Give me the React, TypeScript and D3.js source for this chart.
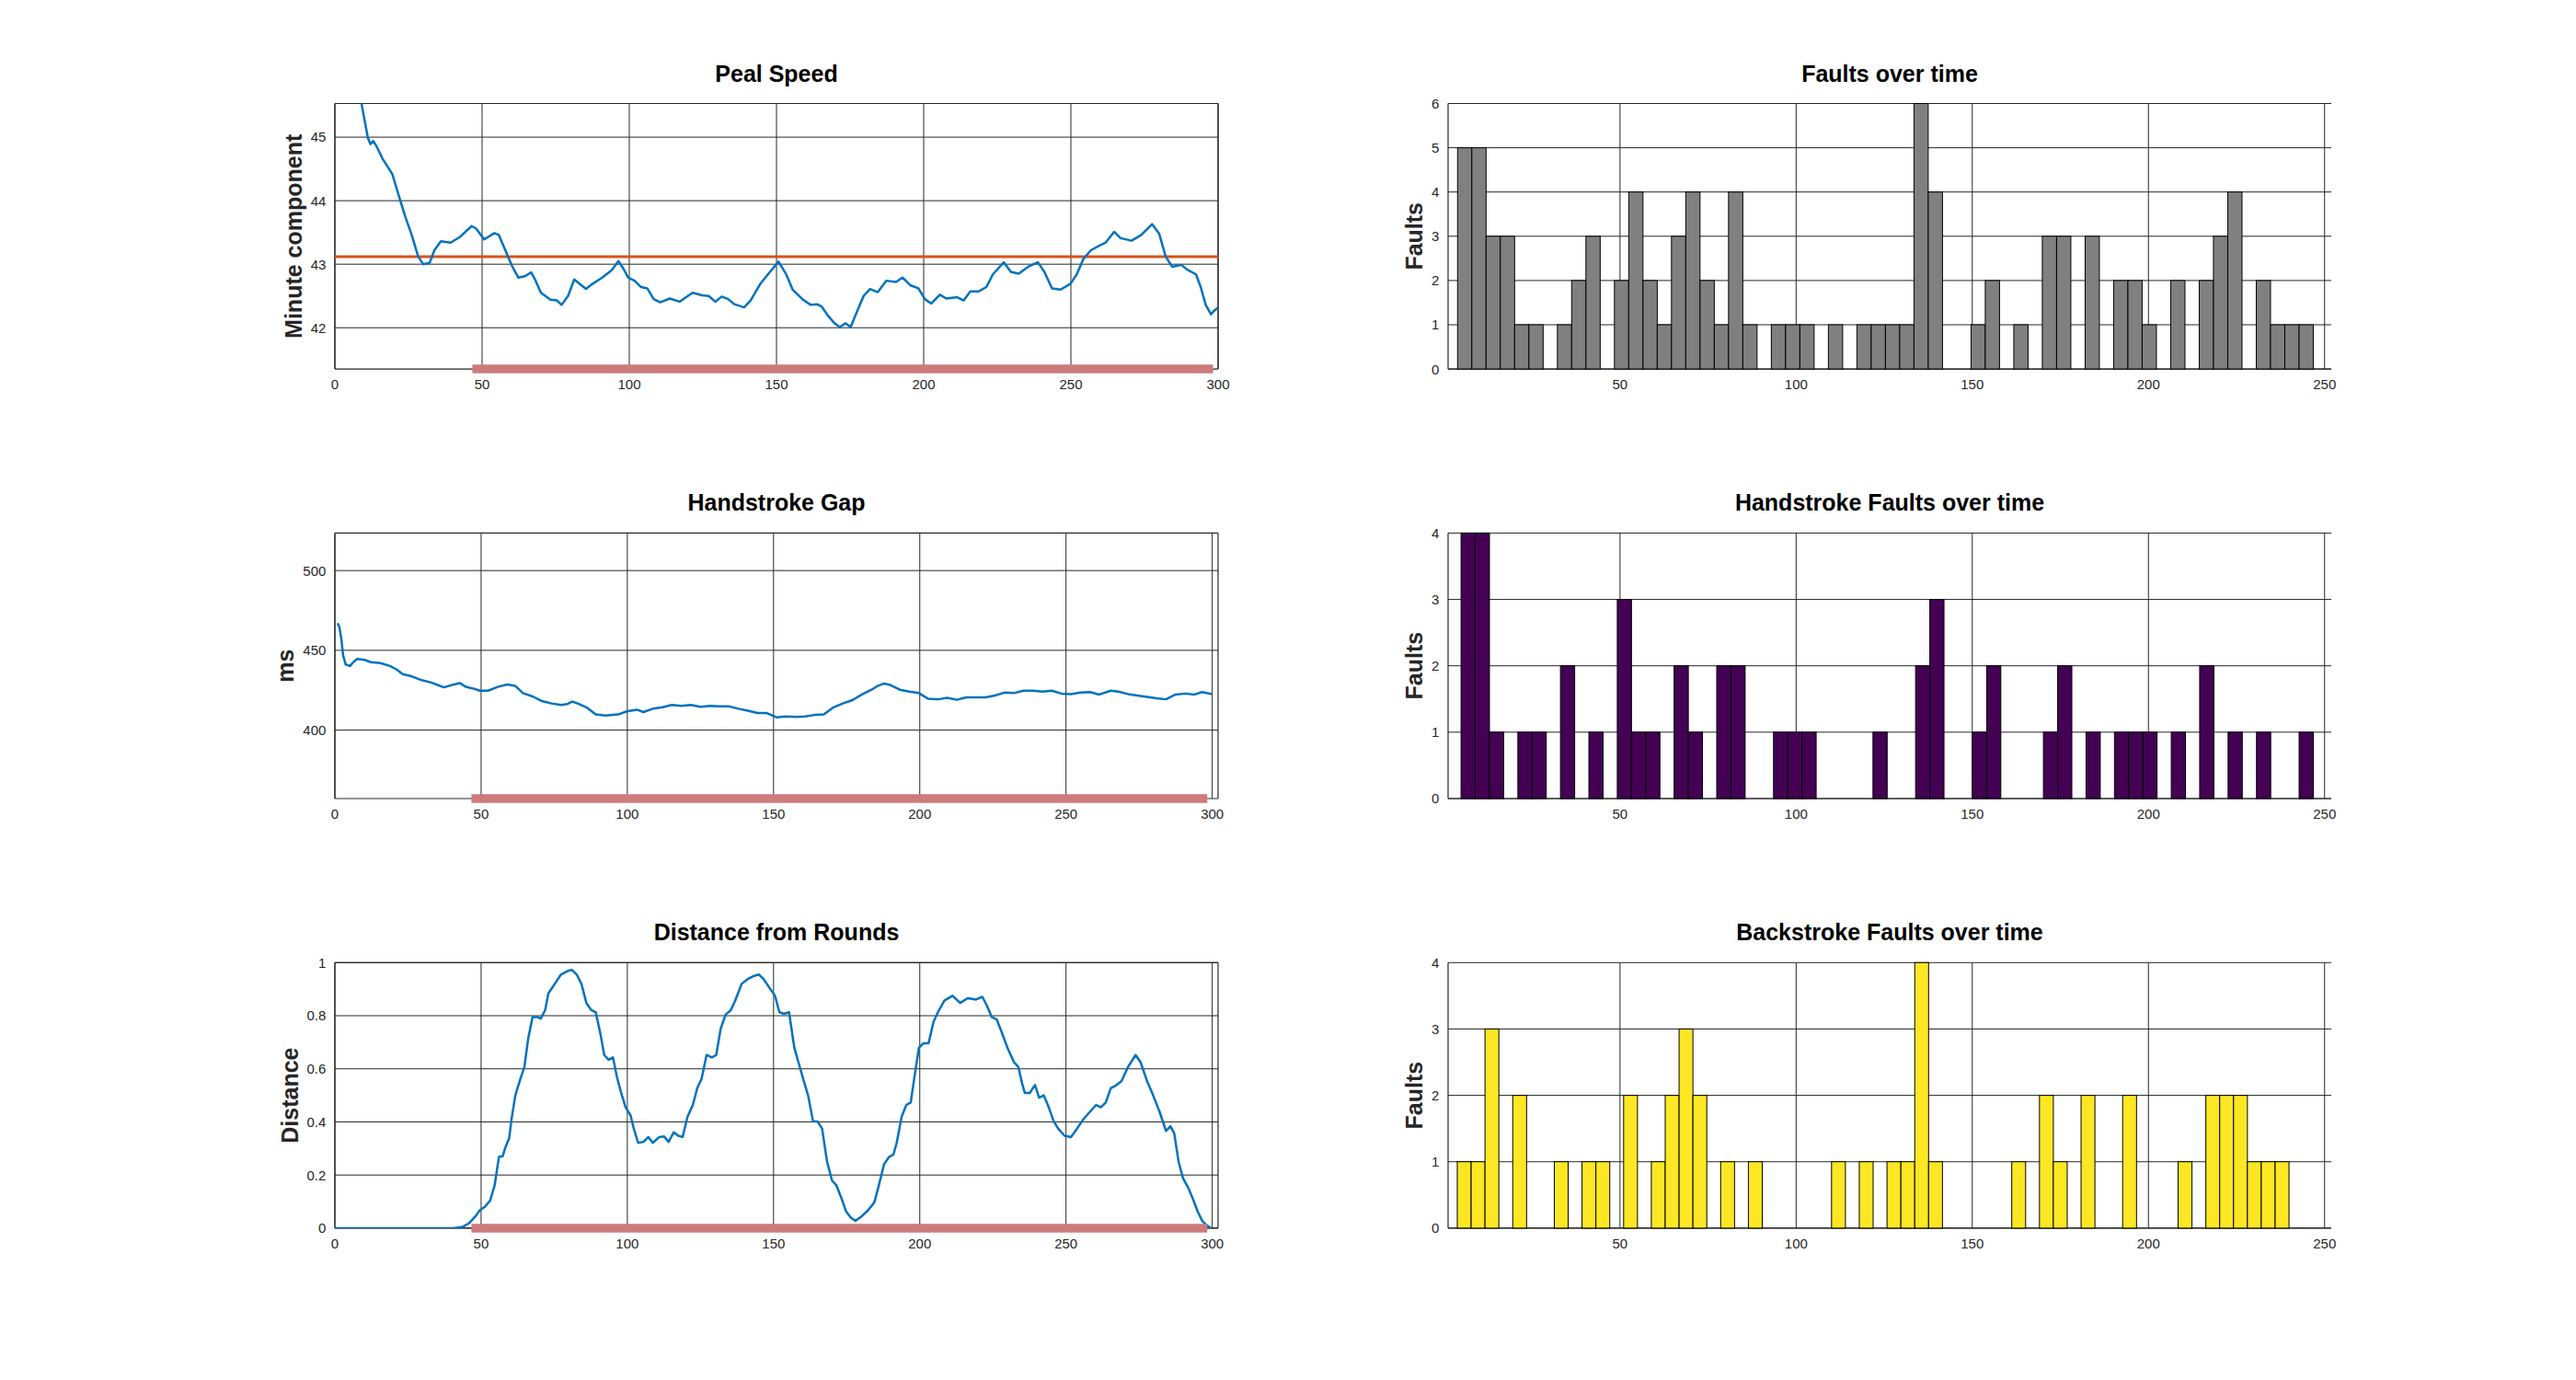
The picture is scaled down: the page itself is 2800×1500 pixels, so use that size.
import * as d3 from 'd3';

// ---- data ----
const lineXTicks = [0, 50, 100, 150, 200, 250, 300];
const histXTicks = [50, 100, 150, 200, 250];

const pealSpeed: [number, number][] = [
  [1, 47.6], [5, 46.5], [9, 45.54], [11.2, 44.99], [12.1, 44.89], [13, 44.94], [14, 44.87], [16.2, 44.66],
  [19.5, 44.42], [21.7, 44.08], [23.9, 43.75], [26.1, 43.46], [28.3, 43.12], [30, 43.0], [32.2, 43.02],
  [33.8, 43.22], [36, 43.36], [39.3, 43.34], [42.5, 43.43], [46.5, 43.6], [48, 43.56], [50.7, 43.39],
  [54.2, 43.49], [55.7, 43.46], [57.9, 43.22], [60.1, 42.98], [62.3, 42.79], [64.5, 42.81], [66.7, 42.87],
  [68.2, 42.74], [70, 42.55], [73.2, 42.44], [75.4, 42.43], [77, 42.36], [79.2, 42.5], [81.3, 42.76],
  [83.1, 42.69], [85.3, 42.61], [87.5, 42.69], [90.8, 42.79], [94.1, 42.91], [96.3, 43.05], [98, 42.93],
  [99.6, 42.79], [101.8, 42.74], [104, 42.64], [106.1, 42.62], [108.3, 42.45], [110.5, 42.4], [113.8, 42.46],
  [117.1, 42.41], [119.3, 42.48], [121.5, 42.55], [124.8, 42.51], [127, 42.5], [129.2, 42.41], [131.4, 42.49],
  [133.6, 42.45], [135.7, 42.37], [139, 42.32], [141.2, 42.43], [144.5, 42.69], [147.8, 42.88], [150.7, 43.04],
  [153.3, 42.84], [155.5, 42.6], [158.8, 42.45], [161.6, 42.36], [163.8, 42.37], [165.4, 42.33], [167.5, 42.19],
  [169.7, 42.07], [171.5, 42.01], [173.5, 42.07], [175.2, 42.01], [177.4, 42.26], [179.6, 42.5], [181.8, 42.61],
  [184.4, 42.56], [187.3, 42.74], [190.6, 42.72], [192.8, 42.79], [195.4, 42.67], [198.2, 42.62], [200.4, 42.45],
  [202.6, 42.38], [205.5, 42.52], [207.7, 42.46], [211.4, 42.48], [213.6, 42.43], [215.8, 42.57], [218.6, 42.57],
  [221.3, 42.64], [223.5, 42.84], [227.2, 43.03], [229.6, 42.88], [232.3, 42.85], [235.5, 42.96], [238.8, 43.03],
  [241, 42.88], [243.6, 42.62], [246.5, 42.6], [249.8, 42.69], [252, 42.84], [254.2, 43.08], [256.8, 43.22],
  [259.6, 43.29], [261.8, 43.34], [264.7, 43.51], [266.9, 43.41], [270.6, 43.37], [273.9, 43.46], [277.6, 43.63],
  [280, 43.48], [282.2, 43.12], [284.4, 42.96], [287.5, 42.99], [289.7, 42.91], [292.5, 42.84], [294.1, 42.64],
  [295.8, 42.36], [297.6, 42.21], [298.5, 42.26], [300, 42.32],
];
const pealMean = 43.12;
const pealTicks = [42, 43, 44, 45];

const handGap: [number, number][] = [
  [0.9, 467.0], [1.5, 464.9], [2.2, 457.4], [2.8, 447.0], [3.7, 441.1], [5.2, 440.2], [6.3, 442.6], [7.6, 444.6],
  [10.2, 444.0], [12.3, 442.6], [15.6, 442.0], [18.8, 440.2], [21, 438.1], [23.2, 435.1], [26.4, 433.6],
  [29.7, 431.3], [32.9, 429.8], [35.1, 428.3], [37.3, 426.8], [40.1, 428.3], [42.7, 429.5], [44.8, 427.1],
  [47, 426.2], [49.6, 424.7], [52.4, 424.7], [55.7, 427.1], [58.9, 428.6], [61.7, 427.7], [64.3, 423.2],
  [67.6, 421.1], [70.8, 418.2], [74.1, 416.7], [77.3, 415.8], [79.5, 416.4], [81.2, 417.9], [83.4, 416.4],
  [86, 414.3], [89.2, 409.8], [92.5, 409.2], [96.8, 409.8], [100.1, 411.9], [103.3, 412.8], [105.5, 411.3],
  [108.7, 413.4], [112, 414.3], [115.2, 415.8], [118.5, 415.2], [121.7, 415.8], [125, 414.6], [128.2, 415.2],
  [131.5, 414.9], [134.7, 414.9], [138, 413.4], [141.2, 412.2], [144.5, 410.7], [147.7, 410.7], [151, 408.0],
  [154.2, 408.6], [157.5, 408.3], [160.7, 408.6], [164, 409.5], [167.2, 409.8], [170.5, 414.3], [173.7, 416.7],
  [177, 418.8], [180.2, 422.3], [183.5, 425.3], [185.6, 427.7], [187.8, 429.2], [189.9, 428.3], [193.2, 425.3],
  [196.4, 424.1], [199.7, 423.2], [202.9, 419.6], [206.2, 419.3], [209.4, 420.2], [212.7, 419.0], [215.9, 420.5],
  [219.2, 420.5], [222.4, 420.5], [225.7, 421.7], [228.9, 423.5], [232.2, 423.2], [235.4, 424.7], [238.7, 424.7],
  [241.9, 424.1], [245.2, 424.7], [248.4, 422.9], [251.7, 422.6], [254.9, 423.5], [258.2, 423.8], [261.4, 422.3],
  [265.3, 424.7], [267.9, 424.1], [271.2, 422.6], [274.4, 421.7], [277.7, 420.8], [280.9, 419.9], [284.2, 419.3],
  [287.4, 422.3], [290.7, 422.9], [293.9, 422.3], [296.5, 423.8], [300, 422.6],
];
const gapTicks = [400, 450, 500];

const distance: [number, number][] = [
  [0, 0], [40.5, 0], [43.8, 0.005], [45.9, 0.018], [48.1, 0.045], [49.6, 0.068], [51.3, 0.08], [53.1, 0.104],
  [54.6, 0.16], [56.1, 0.268], [57.4, 0.271], [58.3, 0.304], [59.6, 0.339], [60.4, 0.41], [61.7, 0.5],
  [63.2, 0.554], [64.8, 0.607], [66.1, 0.714], [67.6, 0.795], [69.1, 0.795], [70.4, 0.789], [71.9, 0.821],
  [73, 0.884], [75.2, 0.92], [77.3, 0.955], [79.5, 0.968], [81, 0.973], [82.7, 0.955], [84.3, 0.92],
  [86, 0.848], [87.7, 0.821], [89.2, 0.813], [90.8, 0.732], [92.1, 0.652], [93.6, 0.634], [95.1, 0.643],
  [96.4, 0.571], [97.9, 0.509], [99.4, 0.455], [101.1, 0.425], [102.2, 0.375], [103.7, 0.321], [105.5, 0.325],
  [107.2, 0.343], [108.7, 0.321], [110.9, 0.343], [112.6, 0.345], [114.1, 0.325], [115.9, 0.361], [117.4, 0.348],
  [118.9, 0.343], [120.6, 0.42], [122.4, 0.464], [123.9, 0.527], [125.4, 0.563], [127.1, 0.652], [128.9, 0.643],
  [130.4, 0.652], [131.9, 0.75], [133.6, 0.804], [135.4, 0.821], [136.9, 0.857], [139.1, 0.92], [141.2, 0.938],
  [143.4, 0.95], [145, 0.955], [146.6, 0.938], [148.8, 0.902], [150.5, 0.875], [152, 0.813], [153.6, 0.807],
  [155.3, 0.813], [157.1, 0.679], [158.5, 0.625], [160.1, 0.563], [161.8, 0.5], [163.5, 0.402], [165, 0.402],
  [166.6, 0.375], [168.3, 0.25], [170, 0.179], [171.5, 0.161], [173.1, 0.116], [174.8, 0.063], [176.5, 0.039],
  [178, 0.027], [180.2, 0.045], [182.4, 0.068], [184.5, 0.098], [186, 0.161], [187.8, 0.241], [189.5, 0.268],
  [191, 0.277], [192.1, 0.321], [193.8, 0.42], [195.4, 0.464], [196.9, 0.473], [198.2, 0.571], [199.7, 0.679],
  [201.2, 0.696], [203, 0.696], [204.7, 0.777], [206.2, 0.813], [208.4, 0.857], [211.2, 0.875], [213.8, 0.848],
  [216.4, 0.866], [219.2, 0.861], [221.4, 0.871], [222.9, 0.839], [224.6, 0.795], [226.3, 0.786], [227.9, 0.741],
  [230, 0.679], [232.2, 0.625], [233.7, 0.607], [235, 0.545], [235.9, 0.509], [237.6, 0.509], [239.4, 0.539],
  [240.8, 0.491], [242.4, 0.5], [244.1, 0.455], [245.8, 0.402], [247.3, 0.375], [249.5, 0.348], [251.7, 0.343],
  [253.8, 0.375], [256, 0.411], [258.2, 0.438], [260.3, 0.464], [261.9, 0.455], [263.6, 0.473], [265.3, 0.527],
  [266.9, 0.536], [269, 0.554], [271.2, 0.607], [273.8, 0.652], [275.5, 0.625], [277.7, 0.554], [279.8, 0.5],
  [282, 0.438], [284.2, 0.366], [285.7, 0.384], [287, 0.357], [288.5, 0.25], [290, 0.188], [291.8, 0.152],
  [293.5, 0.107], [295, 0.063], [296.6, 0.027], [298.3, 0.009], [299.5, 0],
];
const distTicks = [0, 0.2, 0.4, 0.6, 0.8, 1];

// analysed span marked under each line plot
const markedSpan = [46.7, 298.3];

// histograms: 60 bins between the first and last edge
const faultCounts = [
  5, 5, 3, 3, 1, 1, 0, 1, 2, 3, 0, 2, 4, 2, 1, 3, 4, 2, 1, 4,
  1, 0, 1, 1, 1, 0, 1, 0, 1, 1, 1, 1, 6, 4, 0, 0, 1, 2, 0, 1,
  0, 3, 3, 0, 3, 0, 2, 2, 1, 0, 2, 0, 2, 3, 4, 0, 2, 1, 1, 1,
];
const faultEdges = [3.89, 246.8];
const faultTicks = [0, 1, 2, 3, 4, 5, 6];

const handCounts = [
  4, 4, 1, 0, 1, 1, 0, 2, 0, 1, 0, 3, 1, 1, 0, 2, 1, 0, 2, 2,
  0, 0, 1, 1, 1, 0, 0, 0, 0, 1, 0, 0, 2, 3, 0, 0, 1, 2, 0, 0,
  0, 1, 2, 0, 1, 0, 1, 1, 1, 0, 1, 0, 2, 0, 1, 0, 1, 0, 0, 1,
];
const handEdges = [4.88, 246.8];

const backCounts = [
  1, 1, 3, 0, 2, 0, 0, 1, 0, 1, 1, 0, 2, 0, 1, 2, 3, 2, 0, 1,
  0, 1, 0, 0, 0, 0, 0, 1, 0, 1, 0, 1, 1, 4, 1, 0, 0, 0, 0, 0,
  1, 0, 2, 1, 0, 2, 0, 0, 2, 0, 0, 0, 1, 0, 2, 2, 2, 1, 1, 1,
];
const backEdges = [3.81, 239.9];
const strokeTicks = [0, 1, 2, 3, 4];

// ---- layout ----
const W = 2800;
const H = 1500;
const COL = [364, 1574];
const ROW = [112.5, 579.4, 1046.3];
const AW = 960;
const AH = 288.6;
const FONT = '"Liberation Sans", Arial, Helvetica, sans-serif';
const TXT = '#262626';
const GRID = '#262626';

function labelWidth(s: string) {
  let w = 0;
  for (const c of s) w += c === '.' ? 4.17 : 8.34;
  return w;
}

function Frame({ left, top, title, ylabel, yTicks, y, xTicks, x, box }: any) {
  const maxW = d3.max(yTicks.map((t: number) => labelWidth(String(t)))) as number;
  const ylx = left - 9.6 - maxW - 10;
  return (
    <g>
      <text x={left + AW / 2} y={top - 24} textAnchor="middle" fontFamily={FONT} fontWeight="bold" fontSize={25} fill="#000">
        {title}
      </text>
      <text
        transform={`translate(${ylx},${top + AH / 2}) rotate(-90)`}
        textAnchor="middle"
        fontFamily={FONT}
        fontWeight="bold"
        fontSize={25}
        fill={TXT}
      >
        {ylabel}
      </text>
      {yTicks.map((t: number) => (
        <g key={'y' + t}>
          <line x1={left} x2={left + AW} y1={y(t)} y2={y(t)} stroke={GRID} strokeWidth={1} />
          <text x={left - 9.6} y={y(t)} dy="0.36em" textAnchor="end" fontFamily={FONT} fontSize={15} fill={TXT}>
            {t}
          </text>
        </g>
      ))}
      {xTicks.map((t: number) => (
        <g key={'x' + t}>
          <line x1={x(t)} x2={x(t)} y1={top} y2={top + AH} stroke={GRID} strokeWidth={1} />
          <text x={x(t)} y={top + AH + 22} textAnchor="middle" fontFamily={FONT} fontSize={15} fill={TXT}>
            {t}
          </text>
        </g>
      ))}
      <line x1={left} x2={left} y1={top} y2={top + AH} stroke={GRID} strokeWidth={1.2} />
      <line x1={left} x2={left + AW} y1={top + AH} y2={top + AH} stroke={GRID} strokeWidth={1.2} />
      {box && (
        <>
          <line x1={left} x2={left + AW} y1={top} y2={top} stroke={GRID} strokeWidth={1.2} />
          <line x1={left + AW} x2={left + AW} y1={top} y2={top + AH} stroke={GRID} strokeWidth={1.2} />
        </>
      )}
    </g>
  );
}

function LinePanel({ id, row, title, ylabel, data, xMax, yDomain, yTicks, refY }: any) {
  const left = COL[0];
  const top = ROW[row];
  const x = d3.scaleLinear().domain([0, xMax]).range([left, left + AW]);
  const y = d3.scaleLinear().domain(yDomain).range([top + AH, top]);
  const line = d3.line<[number, number]>().x((d) => x(d[0])).y((d) => y(d[1]));
  return (
    <g>
      <defs>
        <clipPath id={id}>
          <rect x={left} y={top} width={AW} height={AH} />
        </clipPath>
      </defs>
      <Frame left={left} top={top} title={title} ylabel={ylabel} yTicks={yTicks} y={y} xTicks={lineXTicks} x={x} box />
      <g clipPath={`url(#${id})`}>
        {refY !== undefined && (
          <line x1={x(0)} x2={x(xMax)} y1={y(refY)} y2={y(refY)} stroke="#d95319" strokeWidth={3} />
        )}
        <path d={line(data) ?? ''} fill="none" stroke="#0072bd" strokeWidth={2.5} strokeLinejoin="round" />
      </g>
      <line
        x1={x(markedSpan[0])}
        x2={x(markedSpan[1])}
        y1={y(yDomain[0])}
        y2={y(yDomain[0])}
        stroke="#cd7b7b"
        strokeWidth={9.5}
      />
    </g>
  );
}

function HistPanel({ row, title, counts, edges, yTicks, color }: any) {
  const left = COL[1];
  const top = ROW[row];
  const x = d3.scaleLinear().domain([1.2, 251.9]).range([left, left + AW]);
  const y = d3.scaleLinear().domain([0, yTicks[yTicks.length - 1]]).range([top + AH, top]);
  const bw = (edges[1] - edges[0]) / counts.length;
  return (
    <g>
      <Frame left={left} top={top} title={title} ylabel="Faults" yTicks={yTicks} y={y} xTicks={histXTicks} x={x} box={false} />
      {counts.map((c: number, i: number) =>
        c > 0 ? (
          <rect
            key={i}
            x={x(edges[0] + i * bw)}
            y={y(c)}
            width={x(edges[0] + (i + 1) * bw) - x(edges[0] + i * bw)}
            height={y(0) - y(c)}
            fill={color}
            stroke="#000"
            strokeWidth={1}
          />
        ) : null
      )}
    </g>
  );
}

export default function App() {
  return (
    <svg
      width={W}
      height={H}
      viewBox={`0 0 ${W} ${H}`}
      style={{ position: 'absolute', left: 0, top: 0, display: 'block', background: '#fff' }}
    >
      <rect x={0} y={0} width={W} height={H} fill="#fff" />
      <LinePanel id="c1" row={0} title="Peal Speed" ylabel="Minute component" data={pealSpeed} xMax={300}
        yDomain={[41.35, 45.53]} yTicks={pealTicks} refY={pealMean} />
      <LinePanel id="c2" row={1} title="Handstroke Gap" ylabel="ms" data={handGap} xMax={302}
        yDomain={[357.1, 523.5]} yTicks={gapTicks} />
      <LinePanel id="c3" row={2} title="Distance from Rounds" ylabel="Distance" data={distance} xMax={302}
        yDomain={[0, 1]} yTicks={distTicks} />
      <HistPanel row={0} title="Faults over time" counts={faultCounts} edges={faultEdges} yTicks={faultTicks} color="#808080" />
      <HistPanel row={1} title="Handstroke Faults over time" counts={handCounts} edges={handEdges} yTicks={strokeTicks} color="#440154" />
      <HistPanel row={2} title="Backstroke Faults over time" counts={backCounts} edges={backEdges} yTicks={strokeTicks} color="#fde725" />
    </svg>
  );
}
